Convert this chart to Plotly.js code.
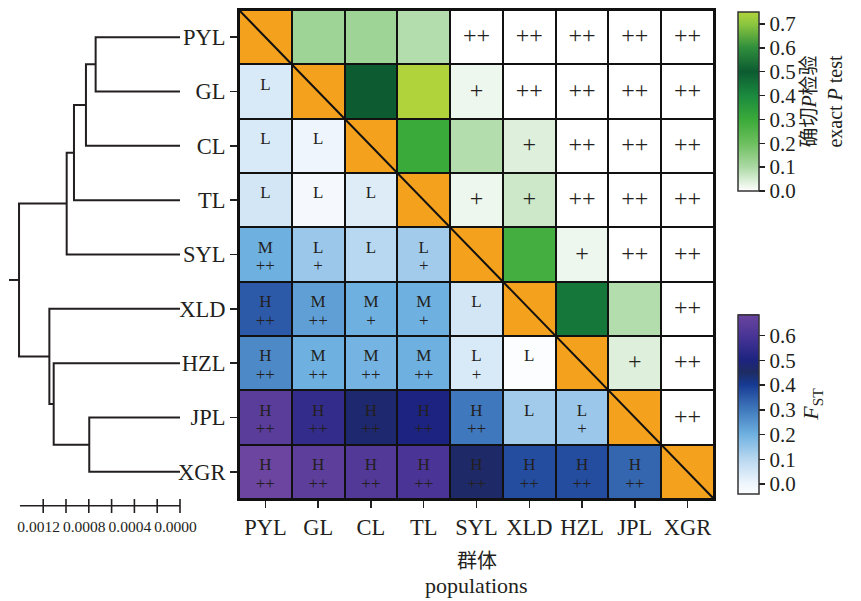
<!DOCTYPE html>
<html><head><meta charset="utf-8">
<script src="https://cdn.plot.ly/plotly-3.0.1.min.js"></script>
<style>body{margin:0;background:#fff}#chart{width:861px;height:601px}</style>
</head><body><div id="chart"></div>
<script>
// ---------------- data ----------------
const pops = ['PYL','GL','CL','TL','SYL','XLD','HZL','JPL','XGR'];

// FST (lower triangle): row i, columns 0..i-1
const fstRows = [
  [],
  [0.04],
  [0.04, 0.00],
  [0.05, -0.02, 0.03],
  [0.20, 0.14, 0.10, 0.13],
  [0.35, 0.23, 0.20, 0.20, 0.05],
  [0.27, 0.20, 0.19, 0.20, 0.04, -0.038],
  [0.64, 0.55, 0.47, 0.50, 0.30, 0.13, 0.14],
  [0.685, 0.65, 0.62, 0.60, 0.46, 0.37, 0.37, 0.33]
];
const fstLevel = [
  [],
  ['L'],
  ['L','L'],
  ['L','L','L'],
  ['M','L','L','L'],
  ['H','M','M','M','L'],
  ['H','M','M','M','L','L'],
  ['H','H','H','H','H','L','L'],
  ['H','H','H','H','H','H','H','H']
];
const fstSig = [
  [],
  [''],
  ['',''],
  ['','',''],
  ['++','+','','+'],
  ['++','++','+','+',''],
  ['++','++','++','++','+',''],
  ['++','++','++','++','++','','+'],
  ['++','++','++','++','++','++','++','++']
];

// exact P test (upper triangle): row i, columns i+1..8
const pRows = [
  [0.12, 0.12, 0.09, 0, 0, 0, 0, 0],
  [0.50, 0.75, 0.02, 0, 0, 0, 0],
  [0.30, 0.09, 0.04, 0, 0, 0],
  [0.02, 0.06, 0, 0, 0],
  [0.28, 0.02, 0, 0],
  [0.44, 0.09, 0],
  [0.04, 0],
  [0],
  []
];
const pSig = [
  ['','','','++','++','++','++','++'],
  ['','','+','++','++','++','++'],
  ['','','+','++','++','++'],
  ['+','+','++','++','++'],
  ['','+','++','++'],
  ['','','++'],
  ['+','++'],
  ['++'],
  []
];

// dendrogram merges: [childA, childB, height]; new nodes numbered from 9
const merges = [
  [0, 1, 0.00074],
  [9, 2, 0.000825],
  [10, 3, 0.00093],
  [11, 4, 0.000994],
  [7, 8, 0.000796],
  [6, 13, 0.001108],
  [5, 14, 0.001146],
  [12, 15, 0.001412]
];
const rootTip = 0.0015;
const scaleLen = 0.001404;
const scaleTicks = [0, 0.0002, 0.0004, 0.0006, 0.0008, 0.0010, 0.0012];
const scaleLabels = [0.0000, 0.0004, 0.0008, 0.0012];

// ---------------- build ----------------
const n = pops.length;
const idx = pops.map((_, i) => i);
const FONT = 'Liberation Serif, Times New Roman, serif';
const TXT = '#231f20';

const zLow = [], zUp = [], zDiag = [], zBase = [];
for (let i = 0; i < n; i++) {
  zLow.push([]); zUp.push([]); zDiag.push([]); zBase.push([]);
  for (let j = 0; j < n; j++) {
    zLow[i].push(j < i ? fstRows[i][j] : null);
    zUp[i].push(j > i ? pRows[i][j - i - 1] : null);
    zDiag[i].push(j === i ? 1 : null);
    zBase[i].push(0);
  }
}

// pixel layout constants
const W = 861, H = 601;
const mT = 10, mB = 30;
const plotTop = mT, plotBot = H - mB, plotH = plotBot - plotTop;
const hmL = 239, hmR = 714, hmBot = 499;
const rowPx = (hmBot - plotTop) / n;
const pyToRow = px => -0.5 + (px - plotTop) / rowPx;
const paperY = px => (plotBot - px) / plotH;

// dendrogram axis: distance 0 at px 180, 114000 px per unit
const dPx = 114000, d0 = 180, dL = 5, dR = 186;
const x2range = [(d0 - dL) / dPx, (d0 - dR) / dPx];

const greenScale = [
  [0, '#ffffff'], [0.133, '#acd9a5'], [0.267, '#6dbf5e'], [0.4, '#3aaa3a'],
  [0.533, '#1b8a3e'], [0.667, '#0c5b31'], [0.8, '#2f8e3c'], [0.933, '#8cc63f'], [1, '#b0d33c']
];
const fMin = -0.038, fMax = 0.685;
const fN = v => (v - fMin) / (fMax - fMin);
const blueScale = [
  [0, '#fbfdff'], [fN(0), '#eef5fc'], [fN(0.1), '#b8d7f0'], [fN(0.2), '#6eb0e0'],
  [fN(0.3), '#3f78bc'], [fN(0.35), '#2d5aa8'], [fN(0.4), '#163a93'], [fN(0.45), '#1e2c62'],
  [fN(0.5), '#1d2380'], [fN(0.6), '#4a3596'], [1, '#6b459f']
];

const cbCommon = {
  thickness: 21, thicknessmode: 'pixels', lenmode: 'fraction',
  x: 738 / W, xanchor: 'left', xpad: 0, ypad: 0, yanchor: 'middle',
  outlinewidth: 1.5, outlinecolor: '#333',
  ticks: 'outside', ticklen: 6, tickwidth: 1.5, tickcolor: '#222',
  tickfont: {family: FONT, size: 21, color: TXT},
  tickformat: '.1f', tick0: 0, dtick: 0.1
};

const traces = [];
// black base: shows through the cell gaps as grid lines
traces.push({
  type: 'heatmap', x: idx, y: idx, z: zBase, zmin: 0, zmax: 1,
  colorscale: [[0, '#111'], [1, '#111']], showscale: false, hoverinfo: 'skip'
});
traces.push({
  type: 'heatmap', x: idx, y: idx, z: zLow, zmin: fMin, zmax: fMax,
  colorscale: blueScale, xgap: 2, ygap: 2, hoverinfo: 'skip',
  colorbar: Object.assign({}, cbCommon, {
    len: 178.6 / plotH, y: paperY(404),
    title: {text: '<i>F</i><sub>ST</sub>', side: 'right', font: {family: FONT, size: 22, color: TXT}}
  })
});
traces.push({
  type: 'heatmap', x: idx, y: idx, z: zUp, zmin: 0, zmax: 0.75,
  colorscale: greenScale, xgap: 2, ygap: 2, hoverinfo: 'skip',
  colorbar: Object.assign({}, cbCommon, {
    len: 179 / plotH, y: paperY(101.5),
    title: {text: '确切<i>P</i>检验<br>exact <i>P</i> test', side: 'right', font: {family: FONT + ', Noto Sans CJK SC', size: 20, color: TXT}}
  })
});
traces.push({
  type: 'heatmap', x: idx, y: idx, z: zDiag, zmin: 0, zmax: 1,
  colorscale: [[0, '#f4a11d'], [1, '#f4a11d']], showscale: false,
  xgap: 2, ygap: 2, hoverinfo: 'skip'
});
// diagonal line
traces.push({
  type: 'scatter', mode: 'lines', x: [-0.5, n - 0.5], y: [-0.5, n - 0.5],
  line: {color: '#111', width: 2}, hoverinfo: 'skip', showlegend: false
});

// texts
const lx = [], ly = [], lt = [], sx = [], sy = [], st = [], ux = [], uy = [], ut = [];
for (let i = 0; i < n; i++) {
  for (let j = 0; j < i; j++) {
    lx.push(j); ly.push(i - 0.11); lt.push(fstLevel[i][j]);
    if (fstSig[i][j]) { sx.push(j); sy.push(i + 0.23); st.push(fstSig[i][j]); }
  }
  for (let j = i + 1; j < n; j++) {
    const s = pSig[i][j - i - 1];
    if (s) { ux.push(j); uy.push(i); ut.push(s); }
  }
}
traces.push({type: 'scatter', mode: 'text', x: lx, y: ly, text: lt, textposition: 'middle center',
  textfont: {family: FONT, size: 17, color: TXT}, hoverinfo: 'skip', showlegend: false});
traces.push({type: 'scatter', mode: 'text', x: sx, y: sy, text: st, textposition: 'middle center',
  textfont: {family: FONT, size: 17, color: TXT}, hoverinfo: 'skip', showlegend: false});
traces.push({type: 'scatter', mode: 'text', x: ux, y: uy, text: ut, textposition: 'middle center',
  textfont: {family: FONT, size: 24, color: TXT}, hoverinfo: 'skip', showlegend: false});

// dendrogram
const nodeY = idx.slice(), nodeH = idx.map(() => 0);
const dx = [], dy = [];
merges.forEach(([a, b, h]) => {
  dx.push(nodeH[a], h, h, nodeH[b], null);
  dy.push(nodeY[a], nodeY[a], nodeY[b], nodeY[b], null);
  nodeY.push((nodeY[a] + nodeY[b]) / 2);
  nodeH.push(h);
});
const root = nodeY.length - 1;
dx.push(nodeH[root], rootTip, null);
dy.push(nodeY[root], nodeY[root], null);
traces.push({type: 'scatter', mode: 'lines', x: dx, y: dy, xaxis: 'x2', yaxis: 'y2',
  line: {color: TXT, width: 2}, hoverinfo: 'skip', showlegend: false});

// scale bar
const sbY = pyToRow(505.7), tkA = pyToRow(499), tkB = pyToRow(513), lbY = pyToRow(528.5);
const bx = [scaleLen, 0, null], by = [sbY, sbY, null];
scaleTicks.forEach(t => { bx.push(t, t, null); by.push(tkA, tkB, null); });
traces.push({type: 'scatter', mode: 'lines', x: bx, y: by, xaxis: 'x2', yaxis: 'y2',
  line: {color: TXT, width: 1.6}, hoverinfo: 'skip', showlegend: false});
traces.push({type: 'scatter', mode: 'text', x: scaleLabels.map(v => v + 0.00004), y: scaleLabels.map(() => lbY),
  text: scaleLabels.map(v => v.toFixed(4)), textposition: 'middle center', xaxis: 'x2', yaxis: 'y2',
  textfont: {family: FONT, size: 15.5, color: TXT}, hoverinfo: 'skip', showlegend: false, cliponaxis: false});

const axCommon = {
  tickvals: idx, ticktext: pops, ticks: 'outside', ticklen: 7, tickwidth: 1.5, tickcolor: '#222',
  showline: true, linewidth: 2, linecolor: '#111', mirror: true,
  showgrid: false, zeroline: false, fixedrange: true,
  tickfont: {family: FONT, size: 22.5, color: TXT}
};

const layout = {
  width: W, height: H,
  margin: {l: 0, r: 0, t: mT, b: mB, pad: 0},
  paper_bgcolor: '#fff', plot_bgcolor: 'rgba(0,0,0,0)',
  showlegend: false, hovermode: false,
  xaxis: Object.assign({}, axCommon, {domain: [hmL / W, hmR / W], range: [-0.5, n - 0.5], anchor: 'y'}),
  yaxis: Object.assign({}, axCommon, {domain: [paperY(hmBot), 1], range: [n - 0.5, -0.5], anchor: 'x'}),
  xaxis2: {domain: [dL / W, dR / W], range: x2range, visible: false, anchor: 'y2', fixedrange: true},
  yaxis2: {domain: [0, 1], range: [pyToRow(plotBot), -0.5], visible: false, anchor: 'x2', fixedrange: true},
  annotations: [
    {text: '群体', xref: 'paper', yref: 'paper', x: (hmL + hmR) / 2 / W, y: paperY(559),
     xanchor: 'center', yanchor: 'middle', showarrow: false,
     font: {family: 'Noto Sans CJK SC', size: 20, color: TXT}},
    {text: 'populations', xref: 'paper', yref: 'paper', x: (hmL + hmR) / 2 / W, y: paperY(585),
     xanchor: 'center', yanchor: 'middle', showarrow: false,
     font: {family: FONT, size: 22, color: TXT}}
  ]
};

Plotly.newPlot('chart', traces, layout, {staticPlot: true, displayModeBar: false});
</script></body></html>
